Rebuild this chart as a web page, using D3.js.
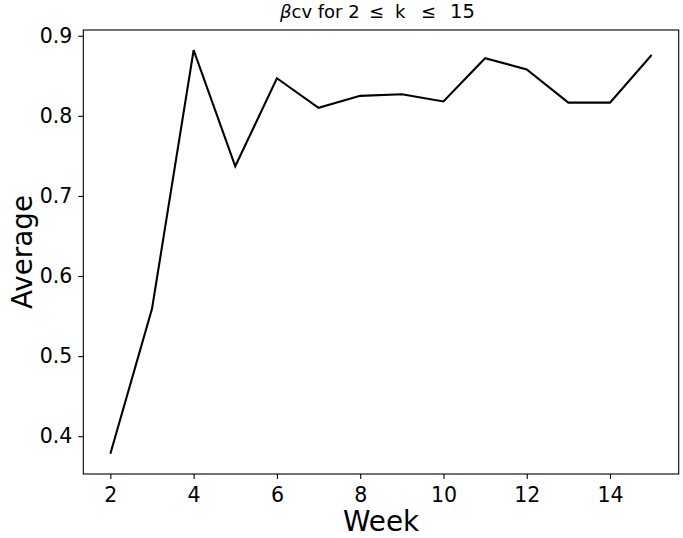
<!DOCTYPE html>
<html>
<head>
<meta charset="utf-8">
<script src="https://cdn.jsdelivr.net/npm/d3@7"></script>
<style>
body { margin: 0; background: #fff; }
svg { display: block; }
text { font-family: "DejaVu Sans", sans-serif; fill: #000; }
</style>
</head>
<body>
<svg id="chart" width="683" height="538"></svg>
<script>
const weeks = [2, 3, 4, 5, 6, 7, 8, 9, 10, 11, 12, 13, 14, 15];
const averages = [0.378, 0.559, 0.882, 0.737, 0.847, 0.810, 0.825, 0.827, 0.818, 0.872, 0.858, 0.8165, 0.8165, 0.876];
const xTicks = [2, 4, 6, 8, 10, 12, 14];
const yTicks = [0.4, 0.5, 0.6, 0.7, 0.8, 0.9];

const svg = d3.select("#chart");
const m = { left: 83.3, right: 683 - 678.7, top: 30, bottom: 538 - 474 };
const W = 683, H = 538;

const xMin = d3.min(weeks), xMax = d3.max(weeks);
const yMin = d3.min(averages), yMax = d3.max(averages);
const xPad = (xMax - xMin) * 0.05, yPad = (yMax - yMin) * 0.05;

const x = d3.scaleLinear().domain([xMin - xPad, xMax + xPad]).range([m.left, W - m.right]);
const y = d3.scaleLinear().domain([yMin - yPad, yMax + yPad]).range([H - m.bottom, m.top]);

const xAxis = svg.append("g")
  .attr("transform", `translate(0,${H - m.bottom})`)
  .call(d3.axisBottom(x).tickValues(xTicks).tickSize(5).tickPadding(8).tickFormat(d3.format("d")));
const yAxis = svg.append("g")
  .attr("transform", `translate(${m.left},0)`)
  .call(d3.axisLeft(y).tickValues(yTicks).tickSize(5).tickPadding(6).tickFormat(d3.format(".1f")));

[xAxis, yAxis].forEach(g => {
  g.select(".domain").remove();
  g.selectAll(".tick line").attr("stroke", "#000").attr("stroke-width", 1.1);
  g.selectAll(".tick text").style("font-size", "20.5px").attr("fill", "#000");
});

svg.append("rect")
  .attr("x", m.left).attr("y", m.top)
  .attr("width", W - m.right - m.left).attr("height", H - m.bottom - m.top)
  .attr("fill", "none").attr("stroke", "#000").attr("stroke-width", 1.1);

const line = d3.line().x((d, i) => x(weeks[i])).y(d => y(d));
svg.append("path")
  .datum(averages)
  .attr("d", line)
  .attr("fill", "none")
  .attr("stroke", "#000")
  .attr("stroke-width", 2.1)
  .attr("stroke-linejoin", "miter");

const title = svg.append("text")
  .attr("x", 280).attr("y", 18)
  .style("font-size", "18px");
title.append("tspan").style("font-style", "italic").text("β");
title.append("tspan").text("cv for 2");
title.append("tspan").attr("x", 369).text("≤");
title.append("tspan").attr("x", 395).text("k");
title.append("tspan").attr("x", 421).text("≤");
title.append("tspan").attr("x", 450).style("font-size", "19.5px").text("15");

svg.append("text")
  .attr("x", (m.left + W - m.right) / 2).attr("y", 531)
  .attr("text-anchor", "middle")
  .style("font-size", "27.8px")
  .text("Week");

svg.append("text")
  .attr("transform", `translate(32,${(m.top + H - m.bottom) / 2}) rotate(-90)`)
  .attr("text-anchor", "middle")
  .style("font-size", "27.8px")
  .text("Average");
</script>
</body>
</html>
